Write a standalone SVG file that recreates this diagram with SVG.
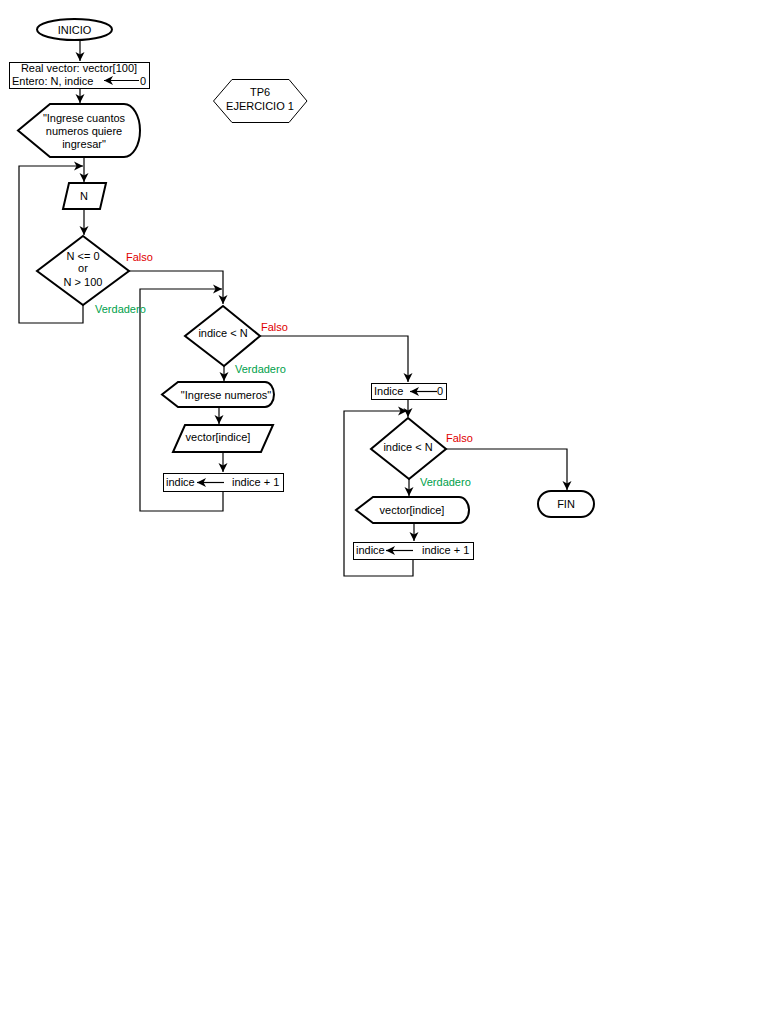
<svg xmlns="http://www.w3.org/2000/svg" width="768" height="1024" viewBox="0 0 768 1024">
<defs>
<marker id="ah" markerWidth="10" markerHeight="10" refX="9" refY="5" orient="auto" markerUnits="userSpaceOnUse">
<path d="M0,0.5 L9,5 L0,9.5 L2.5,5 z" fill="#000"/>
</marker>
<style>
text{font-family:"Liberation Sans",Arial,sans-serif;font-size:11px;fill:#000}
.c{text-anchor:middle}
.thick{fill:#fff;stroke:#000;stroke-width:2}
.thin{fill:#fff;stroke:#000;stroke-width:1}
.ln{fill:none;stroke:#000;stroke-width:1.2}
.f{fill:#e00000}
.v{fill:#00a04a}
</style>
</defs>
<rect width="768" height="1024" fill="#fff"/>
<g id="connectors">
<path class="ln" d="M80,40 V61" marker-end="url(#ah)"/>
<path class="ln" d="M80,88 V103" marker-end="url(#ah)"/>
<path class="ln" d="M84,157 V182" marker-end="url(#ah)"/>
<path class="ln" d="M84,209 V235" marker-end="url(#ah)"/>
<path class="ln" d="M83,305 V323 H19 V166 H83" marker-end="url(#ah)"/>
<path class="ln" d="M129,271 H223 V304" marker-end="url(#ah)"/>
<path class="ln" d="M224,366 V381" marker-end="url(#ah)"/>
<path class="ln" d="M219,407 V424" marker-end="url(#ah)"/>
<path class="ln" d="M223,452 V472" marker-end="url(#ah)"/>
<path class="ln" d="M223,491 V511 H140 V289 H222" marker-end="url(#ah)"/>
<path class="ln" d="M260,336 H408 V382" marker-end="url(#ah)"/>
<path class="ln" d="M408,399 V417" marker-end="url(#ah)"/>
<path class="ln" d="M446,449 H567 V490" marker-end="url(#ah)"/>
<path class="ln" d="M409,479 V496" marker-end="url(#ah)"/>
<path class="ln" d="M414,523 V541" marker-end="url(#ah)"/>
<path class="ln" d="M413,559 V576 H344 V411 H407" marker-end="url(#ah)"/>
</g>
<g id="inicio">
<ellipse class="thick" cx="74.5" cy="29.5" rx="37.5" ry="10.5"/>
<text class="c" x="74.5" y="33.5">INICIO</text>
</g>
<g id="declaraciones">
<rect class="thin" x="9.5" y="62.5" width="140" height="26"/>
<text class="c" x="79" y="72">Real vector: vector[100]</text>
<text x="12" y="85">Entero: N, indice</text>
<path class="ln" d="M139,80.5 H104" marker-end="url(#ah)"/>
<text x="140" y="85">0</text>
</g>
<g id="tp6">
<polygon class="thin" points="213.5,101 232,79.5 289,79.5 307,101 289,122.5 232,122.5"/>
<text class="c" x="260" y="96">TP6</text>
<text class="c" x="260" y="110">EJERCICIO 1</text>
</g>
<g id="mensaje1">
<path class="thick" d="M50,104 H124 A16,26.5 0 0 1 124,157 H50 L18,130.5 Z"/>
<text class="c" x="84" y="122">"Ingrese cuantos</text>
<text class="c" x="84" y="135">numeros quiere</text>
<text class="c" x="84" y="148">ingresar"</text>
</g>
<g id="leerN">
<polygon class="thick" points="69,183 106,183 100,209 63,209"/>
<text class="c" x="84" y="200">N</text>
</g>
<g id="cond1">
<polygon class="thick" points="83,236 129,271 83,305 37,271"/>
<text class="c" x="83" y="260">N &lt;= 0</text>
<text class="c" x="83" y="272">or</text>
<text class="c" x="83" y="286">N &gt; 100</text>
<text class="f" x="126" y="261">Falso</text>
<text class="v" x="95" y="313">Verdadero</text>
</g>
<g id="cond2">
<polygon class="thick" points="223,306 260,336 224,366 185,336"/>
<text class="c" x="223" y="337">indice &lt; N</text>
<text class="f" x="261" y="331">Falso</text>
<text class="v" x="235" y="373">Verdadero</text>
</g>
<g id="mensaje2">
<path class="thick" d="M178,382 H265 A9,12.5 0 0 1 265,407 H178 L162,394.5 Z"/>
<text class="c" x="226" y="399">"Ingrese numeros"</text>
</g>
<g id="leerVector">
<polygon class="thick" points="185,425 273,425 261,452 173,452"/>
<text class="c" x="218" y="441">vector[indice]</text>
</g>
<g id="incremento1">
<rect class="thin" x="163.5" y="473.5" width="120" height="18"/>
<text x="166" y="486">indice</text>
<path class="ln" d="M224,482.5 H197" marker-end="url(#ah)"/>
<text x="232" y="486">indice + 1</text>
</g>
<g id="inicializar">
<rect class="thin" x="371.5" y="383.5" width="75" height="16"/>
<text x="374" y="395">Indice</text>
<path class="ln" d="M437,391.5 H410" marker-end="url(#ah)"/>
<text x="437" y="395">0</text>
</g>
<g id="cond3">
<polygon class="thick" points="408,418 446,449 409,479 371,449"/>
<text class="c" x="408" y="451">indice &lt; N</text>
<text class="f" x="446" y="442">Falso</text>
<text class="v" x="420" y="486">Verdadero</text>
</g>
<g id="fin">
<rect class="thick" x="538" y="491" width="56" height="26" rx="13"/>
<text class="c" x="566" y="508">FIN</text>
</g>
<g id="mostrarVector">
<path class="thick" d="M373,497 H459 A10,13 0 0 1 459,523 H373 L356,510 Z"/>
<text class="c" x="412" y="514">vector[indice]</text>
</g>
<g id="incremento2">
<rect class="thin" x="353.5" y="542.5" width="120" height="17"/>
<text x="356" y="554">indice</text>
<path class="ln" d="M413,550.5 H386" marker-end="url(#ah)"/>
<text x="422" y="554">indice + 1</text>
</g>
</svg>
